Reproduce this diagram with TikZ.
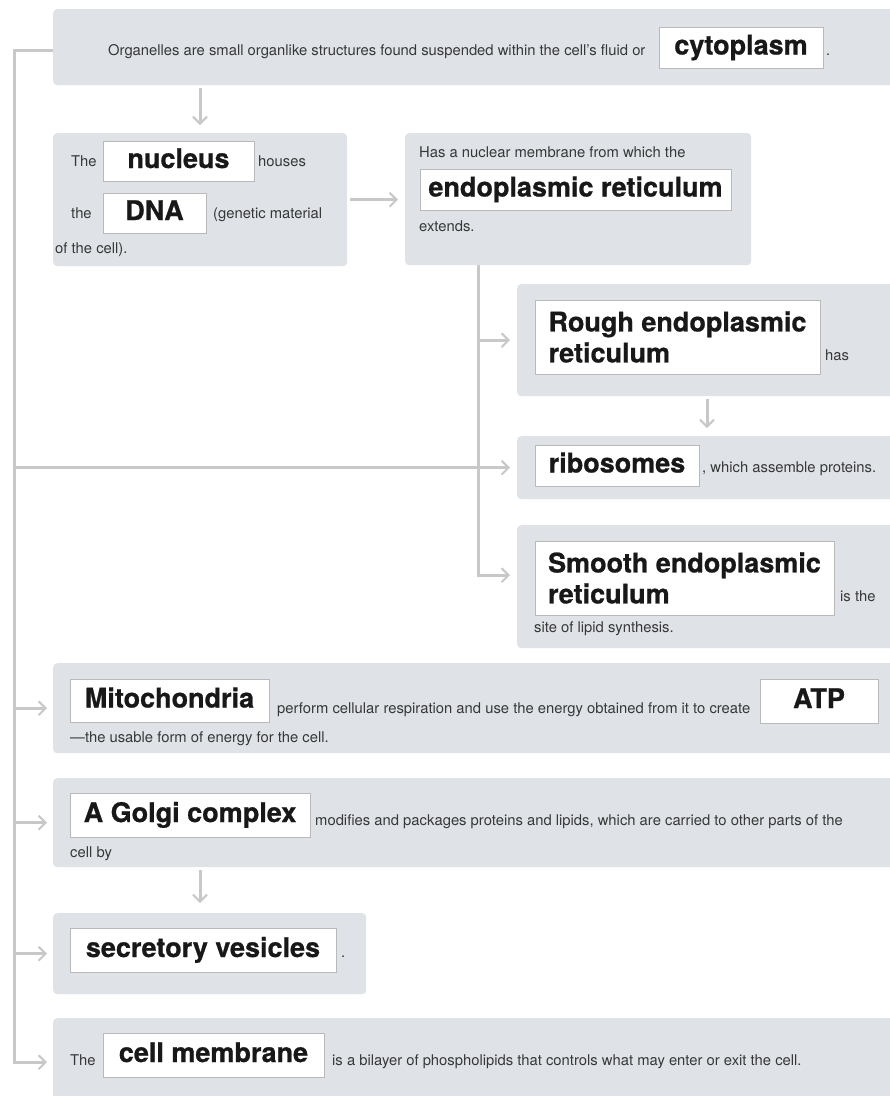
\documentclass[tikz,border=0pt]{standalone}
\usepackage{fontspec}
\setmainfont{TeX Gyre Heros}[BoldFeatures={FakeBold=0.7}]
\usetikzlibrary{arrows.meta}
\definecolor{boxfill}{RGB}{223,227,231}
\definecolor{linegray}{RGB}{200,200,200}
\definecolor{wborder}{RGB}{185,185,185}
\definecolor{bodytext}{RGB}{55,55,55}
\definecolor{boldtext}{RGB}{24,24,24}
\begin{document}
\begin{tikzpicture}[x=1pt,y=-1pt,
  graybox/.style={fill=boxfill, rounded corners=4pt, inner sep=0pt, anchor=north west},
  wbox/.style={draw=wborder, line width=0.8pt, fill=white, inner sep=0pt, font=\fontsize{27}{31}\selectfont\bfseries, text=boldtext, text height=19.5pt, text depth=5.5pt},
  wboxtwo/.style={draw=wborder, line width=0.8pt, fill=white, inner sep=0pt, font=\fontsize{27}{31}\selectfont\bfseries, text=boldtext, align=left},
  body/.style={font=\fontsize{14.8}{17}\selectfont, text=bodytext, inner sep=0pt, anchor=base west},
  conn/.style={draw=linegray, line width=3pt},
  arr/.style={conn, -{Straight Barb[length=7pt,width=14pt,line width=2pt]}},
]
\fill[white] (0,0) rectangle (890,1096);
\useasboundingbox (0,0) rectangle (890,1096);

% gray boxes
\node[graybox, minimum width=843pt, minimum height=76pt] (top) at (53,9) {};
\node[graybox, minimum width=294pt, minimum height=133pt] (nucleus) at (53,133) {};
\node[graybox, minimum width=346pt, minimum height=132pt] (er) at (405,133) {};
\node[graybox, minimum width=379pt, minimum height=112pt] (rough) at (517,284) {};
\node[graybox, minimum width=379pt, minimum height=63pt] (ribo) at (517,436) {};
\node[graybox, minimum width=379pt, minimum height=123pt] (smooth) at (517,525) {};
\node[graybox, minimum width=843pt, minimum height=90pt] (mito) at (53,663) {};
\node[graybox, minimum width=843pt, minimum height=89pt] (golgi) at (53,778) {};
\node[graybox, minimum width=313pt, minimum height=81pt] (secr) at (53,913) {};
\node[graybox, minimum width=843pt, minimum height=88pt] (cellm) at (53,1018) {};

% white term boxes
\node[wbox, minimum width=164pt, minimum height=41pt] (cyto) at (741,47.5) {cytoplasm};
\node[wbox, minimum width=151pt, minimum height=40pt] (nuc) at (178.5,161) {nucleus};
\node[wbox, minimum width=103pt, minimum height=40pt] (dna) at (154.5,213) {DNA};
\node[wbox, minimum width=311pt, minimum height=41pt] (endo) at (575.5,189.5) {endoplasmic reticulum};
\node[wboxtwo, minimum width=285pt, minimum height=74pt] (rer) at (677.5,337) {Rough endoplasmic\\reticulum};
\node[wbox, minimum width=164pt, minimum height=41pt] (ribw) at (617,465.5) {ribosomes};
\node[wboxtwo, minimum width=299pt, minimum height=74pt] (ser) at (684.5,578) {Smooth endoplasmic\\reticulum};
\node[wbox, minimum width=199pt, minimum height=43pt] (mitw) at (169.5,700.5) {Mitochondria};
\node[wbox, minimum width=118pt, minimum height=44pt] (atp) at (819,701) {ATP};
\node[wbox, minimum width=240pt, minimum height=44pt] (golw) at (190,815) {A Golgi complex};
\node[wbox, minimum width=266pt, minimum height=44pt] (secw) at (203,950) {secretory vesicles};
\node[wbox, minimum width=221pt, minimum height=44pt] (cmw) at (213.5,1055) {cell membrane};

% body text
\node[body] (t1) at (108,55) {Organelles are small organlike structures found suspended within the cell’s fluid or};
\node[body] (t2) at (826,55) {.};
\node[body] (t3) at (71,166) {The};
\node[body] (t4) at (258,166) {houses};
\node[body] (t5) at (71,218) {the};
\node[body] (t6) at (213,218) {(genetic material};
\node[body] (t7) at (55,253) {of the cell).};
\node[body] (t8) at (419,157) {Has a nuclear membrane from which the};
\node[body] (t9) at (419,231) {extends.};
\node[body] (t10) at (825,360) {has};
\node[body] (t11) at (702,472) {, which assemble proteins.};
\node[body] (t12) at (840,601) {is the};
\node[body] (t13) at (534,632) {site of lipid synthesis.};
\node[body] (t14) at (277,713) {perform cellular respiration and use the energy obtained from it to create};
\node[body] (t15) at (70,742) {—the usable form of energy for the cell.};
\node[body] (t16) at (315,825) {modifies and packages proteins and lipids, which are carried to other parts of the};
\node[body] (t17) at (70,857) {cell by};
\node[body] (t18) at (341,957) {.};
\node[body] (t19) at (70,1065) {The};
\node[body] (t20) at (332,1065) {is a bilayer of phospholipids that controls what may enter or exit the cell.};

% connectors
\coordinate (trunk) at (14,0);
\coordinate (nucx) at (200,0);
\coordinate (erb) at (478,0);
\coordinate (rx) at (707,0);
\coordinate (topw) at ([yshift=-3pt]top.west);
\coordinate (sew) at ([yshift=11.5pt]smooth.west);

\draw[arr, shorten >=6pt] (topw) -- (trunk |- topw) -- (trunk |- cellm.west) -- (cellm.west);
\draw[arr, shorten >=6pt] (trunk |- mito.west) -- (mito.west);
\draw[arr, shorten >=6pt] (trunk |- golgi.west) -- (golgi.west);
\draw[arr, shorten >=6pt] (trunk |- secr.west) -- (secr.west);
\draw[arr, shorten >=7pt] (trunk |- ribo.west) -- (ribo.west);

\draw[arr, shorten >=7pt] (erb |- er.south) |- (sew);
\draw[arr, shorten >=7pt] (erb |- rough.west) -- (rough.west);

\draw[arr, shorten <=3pt, shorten >=8pt] (top.south -| nucx) -- (nucleus.north -| nucx);
\draw[arr, shorten <=3pt, shorten >=7pt] (nucleus.east) -- (nucleus.east -| er.west);
\draw[arr, shorten <=3pt, shorten >=8pt] (rough.south -| rx) -- (ribo.north -| rx);
\draw[arr, shorten <=3pt, shorten >=10pt] (golgi.south -| nucx) -- (secr.north -| nucx);
\end{tikzpicture}
\end{document}
